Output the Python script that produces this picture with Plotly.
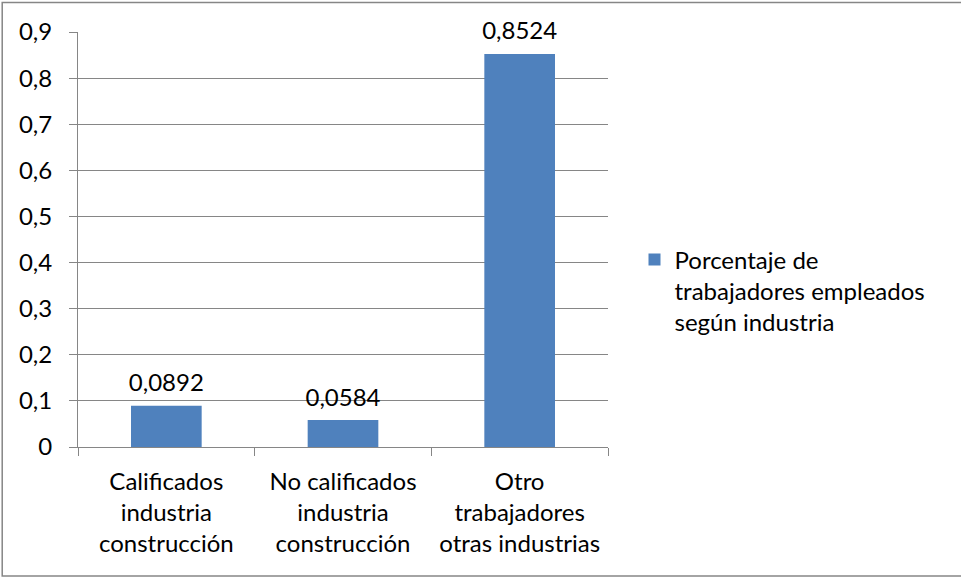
import plotly.graph_objects as go

categorias = [
    "Calificados<br>industria<br>construcción",
    "No calificados<br>industria<br>construcción",
    "Otro<br>trabajadores<br>otras industrias",
]
porcentaje = [0.0892, 0.0584, 0.8524]
serie = "Porcentaje de<br>trabajadores empleados<br>según industria"

gris = "#868686"
fuente = "Lato, 'Open Sans', sans-serif"

fig = go.Figure()
fig.add_trace(go.Bar(
    x=categorias, y=porcentaje, name=serie,
    marker=dict(color="#4F81BD", line=dict(width=0)),
    showlegend=True,
))
# etiquetas de datos encima de cada barra
fig.add_trace(go.Scatter(
    x=categorias, y=porcentaje, mode="markers+text",
    marker=dict(size=12, opacity=0),
    texttemplate="%{y:.4f}", textposition="top center",
    textfont=dict(size=24, color="black"),
    cliponaxis=False, showlegend=False, hoverinfo="skip",
))

fig.update_layout(
    width=961, height=579,
    margin=dict(l=78, r=353, t=32, b=132),
    plot_bgcolor="white", paper_bgcolor="white",
    separators=",.",
    font=dict(family=fuente, size=24, color="black"),
    bargap=0.6,
    showlegend=True,
    legend=dict(x=1.05, y=0.505, xanchor="left", yanchor="top",
                valign="top", font=dict(size=24), itemwidth=30),
    xaxis=dict(showline=True, linecolor=gris, linewidth=1,
               ticks="outside", ticklen=8, tickcolor=gris,
               tickson="boundaries", showgrid=False, ticklabelstandoff=13),
    yaxis=dict(range=[0, 0.9], dtick=0.1, showline=True, linecolor=gris,
               linewidth=1, ticks="outside", ticklen=8, tickcolor=gris,
               showgrid=True, gridcolor=gris, gridwidth=1, zeroline=False,
               ticklabelstandoff=12),
    shapes=[dict(type="rect", xref="paper", yref="paper",
                 x0=-0.143, x1=2.0, y0=-0.311, y1=1.071,
                 line=dict(color=gris, width=1.5))],
)

fig.write_html("out.html", config={"displayModeBar": False},
               post_script="document.body.style.margin='0';")
